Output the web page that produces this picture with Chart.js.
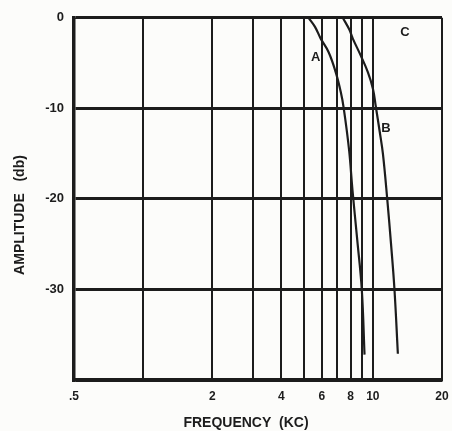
<!DOCTYPE html>
<html>
<head>
<meta charset="utf-8">
<script src="https://cdn.jsdelivr.net/npm/chart.js@4.4.1/dist/chart.umd.min.js"></script>
<style>
  html, body { margin: 0; padding: 0; background: #fcfcfa; }
  #wrap { width: 452px; height: 431px; }
</style>
</head>
<body>
<div id="wrap"><canvas id="c" width="452" height="431"></canvas></div>
<script>
// Frequency (kc) / amplitude (db)
const curveA_freq = [5.25, 5.6, 5.93, 6.42, 6.89, 7.25, 7.47, 7.88, 8.15, 8.55, 8.95, 9.2];
const curveA_db   = [0, -1.0, -2.3, -3.8, -6.0, -8.2, -10, -14.6, -19, -24.5, -30, -37.2];
const curveB_freq = [7.4, 7.9, 8.18, 8.87, 9.51, 10.0, 10.3, 10.7, 11.06, 11.55, 12.0, 12.42, 12.85];
const curveB_db   = [0, -1.3, -2.3, -4.2, -6.0, -7.8, -9.8, -12.5, -15, -20, -25, -30, -37.1];
const curveC_freq = [0.5, 20];
const curveC_db   = [0, 0];

const xGridValues = [0.5, 1, 2, 3, 4, 5, 6, 7, 8, 9, 10, 20];
const xTickLabels = {0.5: '.5', 2: '2', 4: '4', 6: '6', 8: '8', 10: '10', 20: '20'};
const yTickValues = [0, -10, -20, -30, -40];
const yTickLabels = {0: '0', '-10': '-10', '-20': '-20', '-30': '-30'};

const curveNames = ['A', 'B', 'C'];
const curveLabelFreq = [5.64, 11.4, 13.8];
const curveLabelDb = [-4.4, -12.2, -1.6];

const xTitle = 'FREQUENCY  (KC)';
const yTitle = 'AMPLITUDE   (db)';

const INK = '#1c1c1c';
const FONT = '"Liberation Sans", Arial, sans-serif';

function pts(xs, ys) { return xs.map((x, i) => ({x: x, y: ys[i]})); }

const labelPlugin = {
  id: 'curveLabels',
  afterDatasetsDraw(chart) {
    const {ctx, scales} = chart;
    ctx.save();
    ctx.fillStyle = INK;
    ctx.font = 'bold 13px ' + FONT;
    ctx.textAlign = 'center';
    ctx.textBaseline = 'middle';
    curveNames.forEach((n, i) => {
      ctx.fillText(n, scales.x.getPixelForValue(curveLabelFreq[i]), scales.y.getPixelForValue(curveLabelDb[i]));
    });
    // axis titles
    ctx.font = 'bold 14px ' + FONT;
    ctx.fillText(xTitle, 246, 423);
    ctx.translate(20, 215);
    ctx.rotate(-Math.PI / 2);
    ctx.fillText(yTitle, 0, 0);
    ctx.restore();
  }
};

const bgPlugin = {
  id: 'bg',
  beforeDraw(chart) {
    const ctx = chart.ctx;
    ctx.save();
    ctx.fillStyle = '#fcfcfa';
    ctx.fillRect(0, 0, chart.width, chart.height);
    ctx.restore();
  }
};

const lineStyle = {borderColor: INK, borderWidth: 2.2, pointRadius: 0, fill: false, tension: 0.4};

new Chart(document.getElementById('c'), {
  type: 'line',
  data: {
    datasets: [
      Object.assign({label: 'A', data: pts(curveA_freq, curveA_db)}, lineStyle),
      Object.assign({label: 'B', data: pts(curveB_freq, curveB_db)}, lineStyle),
      Object.assign({label: 'C', data: pts(curveC_freq, curveC_db)}, lineStyle)
    ]
  },
  plugins: [bgPlugin, labelPlugin],
  options: {
    responsive: false,
    animation: false,
    devicePixelRatio: 1,
    layout: {padding: {left: 0, right: 10, top: 17, bottom: 0}},
    plugins: {legend: {display: false}, tooltip: {enabled: false}},
    scales: {
      x: {
        type: 'logarithmic',
        min: 0.5,
        max: 20,
        afterBuildTicks(scale) { scale.ticks = xGridValues.map(v => ({value: v})); },
        afterFit(scale) { scale.height = 51; scale.paddingLeft = 0; scale.paddingRight = 0; },
        grid: {color: INK, lineWidth: 2, drawTicks: false},
        border: {color: INK, width: 3.5},
        ticks: {
          autoSkip: false, maxRotation: 0, padding: 9, color: INK,
          font: {family: FONT, size: 12, weight: 'bold'},
          callback(v) { return xTickLabels[v] !== undefined ? xTickLabels[v] : ''; }
        }
      },
      y: {
        min: -40,
        max: 0,
        afterBuildTicks(scale) { scale.ticks = yTickValues.map(v => ({value: v})); },
        afterFit(scale) { scale.width = 74; },
        grid: {color: INK, lineWidth: 3, drawTicks: false},
        border: {color: INK, width: 3.5},
        ticks: {
          padding: 10, color: INK,
          font: {family: FONT, size: 13, weight: 'bold'},
          callback(v) { return yTickLabels[v] !== undefined ? yTickLabels[v] : ''; }
        }
      }
    }
  }
});
</script>
</body>
</html>
